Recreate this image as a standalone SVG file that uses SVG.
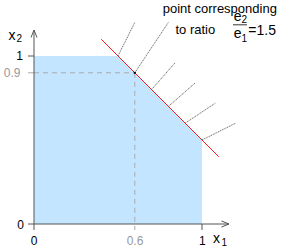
<svg xmlns="http://www.w3.org/2000/svg" width="291" height="246" viewBox="0 0 291 246">
<style>
text{font-family:"Liberation Sans",Arial,sans-serif;fill:#000}
.t12{font-size:12px}
.t13{font-size:13px}
.t14{font-size:14px}
.sub{font-size:10px}
.grey{fill:#999}
.axis{stroke:#555;stroke-width:1;fill:none}
.dash{stroke:#aaa;stroke-width:1;stroke-dasharray:5,4;fill:none}
.hatch{stroke:#555;stroke-width:0.9;stroke-dasharray:1.2,0.8;fill:none}
</style>
<g id="region">
<polygon points="34,224 34,56 118,56 202,140 202,224" fill="#c4e5ff"/>
</g>
<g id="guides">
<line class="dash" x1="34" y1="72.8" x2="134.8" y2="72.8"/>
<line class="dash" x1="134.8" y1="72.8" x2="134.8" y2="230"/>
<line x1="28" y1="72.8" x2="34" y2="72.8" stroke="#aaa"/>
</g>
<g id="axes">
<line class="axis" x1="34" y1="230" x2="34" y2="30"/>
<path class="axis" d="M31,37.5 L34,30 L37,37.5"/>
<line class="axis" x1="28" y1="224" x2="229" y2="224"/>
<path class="axis" d="M221.5,221 L229,224 L221.5,227"/>
<line class="axis" x1="28" y1="56" x2="34" y2="56"/>
<line class="axis" x1="202" y1="224" x2="202" y2="230"/>
</g>
<g id="connectors">
<line class="hatch" x1="118" y1="56" x2="134.8" y2="22.4"/>
<line class="hatch" x1="134.8" y1="72.8" x2="168.4" y2="22.4"/>
<line class="hatch" x1="151.6" y1="89.6" x2="175.12" y2="62.72"/>
<line class="hatch" x1="168.4" y1="106.4" x2="195.28" y2="82.88"/>
<line class="hatch" x1="185.2" y1="123.2" x2="215.44" y2="103.04"/>
<line class="hatch" x1="202" y1="140" x2="235.6" y2="123.2"/>
</g>
<g id="budget-line">
<line x1="101.2" y1="39.2" x2="218.8" y2="156.8" stroke="#ff0000" stroke-width="0.9"/>
</g>
<g id="point">
<rect x="133.8" y="71.8" width="2" height="2" fill="#000"/>
</g>
<g id="labels">
<text class="t13" x="162.7" y="13.3">point corresponding</text>
<text class="t13" x="175.5" y="34">to ratio</text>
<text class="t14" x="233.8" y="21.3">e</text>
<text class="sub" x="241.5" y="23">2</text>
<line x1="233" y1="24.8" x2="247" y2="24.8" stroke="#000" stroke-width="0.8"/>
<text class="t14" x="233.8" y="37.5">e</text>
<text class="sub" x="241.5" y="41.8">1</text>
<text class="t14" x="248.3" y="34.7">=1.5</text>
<text class="t14" x="8.5" y="39.5">x</text>
<text class="sub" x="16.5" y="42">2</text>
<text class="t12" x="23" y="60" text-anchor="end">1</text>
<text class="t12 grey" x="20.5" y="76.5" text-anchor="end">0.9</text>
<text class="t12" x="24" y="228.5" text-anchor="end">0</text>
<text class="t12" x="34" y="244.5" text-anchor="middle">0</text>
<text class="t12 grey" x="135" y="244.5" text-anchor="middle">0.6</text>
<text class="t12" x="202.3" y="244.5" text-anchor="middle">1</text>
<text class="t14" x="213" y="242.5">x</text>
<text class="sub" x="221.5" y="245.5">1</text>
</g>
</svg>
